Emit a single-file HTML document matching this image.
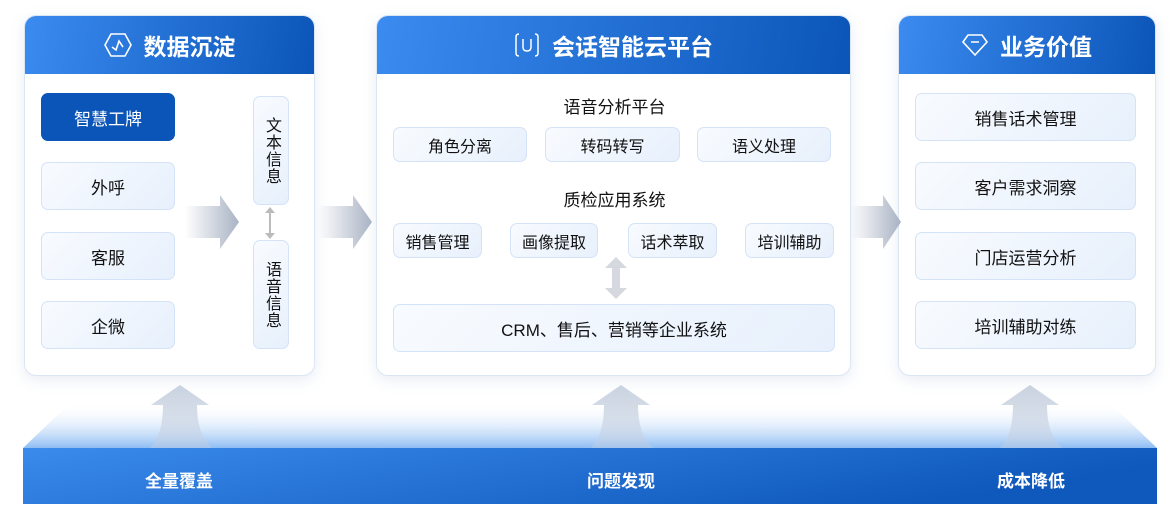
<!DOCTYPE html>
<html><head><meta charset="utf-8"><style>
*{margin:0;padding:0;box-sizing:border-box}
body{width:1173px;height:524px;background:#fff;position:relative;overflow:hidden;font-family:"Liberation Sans","Noto Sans CJK SC",sans-serif;color:#111}
.a{position:absolute}
.panel{position:absolute;background:#fff;border:1px solid #dbe6f5;border-radius:12px;box-shadow:0 4px 14px rgba(120,150,200,.18);overflow:hidden}
.hd{position:absolute;left:0;right:0;top:0;height:58px;background:linear-gradient(100deg,#3b8bf0,#0b55b8);color:#fff;font-weight:bold;font-size:23px;display:flex;align-items:center;justify-content:center;gap:12px}
.bx{position:absolute;background:linear-gradient(135deg,#f8fbff,#e7f0fc);border:1px solid #d4e3f7;border-radius:7px;display:flex;align-items:center;justify-content:center;font-size:17px;color:#111}
.t{position:absolute;font-size:17px;text-align:center}
.v{writing-mode:vertical-rl;letter-spacing:1px;font-size:16px}
</style></head><body>

<div class="panel" style="left:24px;top:15px;width:291px;height:361px">
 <div class="hd"><svg width="28" height="26" viewBox="0 0 28 26"><polygon points="7,2 21,2 27,13 21,24 7,24 1,13" fill="none" stroke="#fff" stroke-width="1.6"/><polyline points="8,15 12,18 15,9 19,15" fill="none" stroke="#fff" stroke-width="1.6"/></svg>数据沉淀</div>
</div>
<div class="panel" style="left:376px;top:15px;width:475px;height:361px">
 <div class="hd"><svg width="26" height="26" viewBox="0 0 26 26"><path d="M5,2 Q2,2 2,5 L2,21 Q2,24 5,24 M21,2 Q24,2 24,5 L24,21 Q24,24 21,24" fill="none" stroke="#fff" stroke-width="1.5"/><path d="M9,7 L9,15 Q9,19 13,19 Q17,19 17,15 L17,7" fill="none" stroke="#fff" stroke-width="1.5"/></svg>会话智能云平台</div>
</div>
<div class="panel" style="left:898px;top:15px;width:258px;height:361px">
 <div class="hd"><svg width="26" height="24" viewBox="0 0 26 24"><polygon points="6,2 20,2 25,9 13,22 1,9" fill="none" stroke="#fff" stroke-width="1.6"/><line x1="9" y1="9" x2="17" y2="9" stroke="#fff" stroke-width="1.6"/></svg>业务价值</div>
</div>

<div class="bx" style="left:41px;top:93px;width:134px;height:48px;background:#0b55b8;border-color:#0b55b8;color:#fff">智慧工牌</div>
<div class="bx" style="left:41px;top:162px;width:134px;height:48px">外呼</div>
<div class="bx" style="left:41px;top:232px;width:134px;height:48px">客服</div>
<div class="bx" style="left:41px;top:301px;width:134px;height:48px">企微</div>
<div class="bx v" style="left:253px;top:96px;width:36px;height:109px">文本信息</div>
<div class="bx v" style="left:253px;top:240px;width:36px;height:109px">语音信息</div>
<svg class="a" style="left:263px;top:206px" width="14" height="34"><line x1="7" y1="5" x2="7" y2="29" stroke="#bbb" stroke-width="2"/><polygon points="2,7 7,1 12,7" fill="#bbb"/><polygon points="2,27 7,33 12,27" fill="#bbb"/></svg>

<div class="t" style="left:377px;width:475px;top:93px">语音分析平台</div>
<div class="bx" style="left:393px;top:127px;width:134px;height:35px;font-size:16px">角色分离</div>
<div class="bx" style="left:545px;top:127px;width:135px;height:35px;font-size:16px">转码转写</div>
<div class="bx" style="left:697px;top:127px;width:134px;height:35px;font-size:16px">语义处理</div>
<div class="t" style="left:377px;width:475px;top:186px">质检应用系统</div>
<div class="bx" style="left:393px;top:223px;width:89px;height:35px;font-size:16px">销售管理</div>
<div class="bx" style="left:510px;top:223px;width:88px;height:35px;font-size:16px">画像提取</div>
<div class="bx" style="left:628px;top:223px;width:89px;height:35px;font-size:16px">话术萃取</div>
<div class="bx" style="left:745px;top:223px;width:89px;height:35px;font-size:16px">培训辅助</div>
<svg class="a" style="left:604px;top:256px" width="24" height="44"><rect x="8" y="10" width="8" height="24" fill="#d5d8de"/><polygon points="1,12 12,1 23,12" fill="#d5d8de"/><polygon points="1,32 12,43 23,32" fill="#d5d8de"/></svg>
<div class="bx" style="left:393px;top:304px;width:442px;height:48px">CRM、售后、营销等企业系统</div>

<div class="bx" style="left:915px;top:93px;width:221px;height:48px">销售话术管理</div>
<div class="bx" style="left:915px;top:162px;width:221px;height:48px">客户需求洞察</div>
<div class="bx" style="left:915px;top:232px;width:221px;height:48px">门店运营分析</div>
<div class="bx" style="left:915px;top:301px;width:221px;height:48px">培训辅助对练</div>

<svg class="a" style="left:0;top:0" width="1173" height="524">
 <defs>
  <linearGradient id="ga" x1="0" x2="1"><stop offset="0" stop-color="#a9b3c4" stop-opacity="0"/><stop offset="1" stop-color="#a9b3c4"/></linearGradient>
  <linearGradient id="gu" x1="0" y1="1" x2="0" y2="0"><stop offset="0" stop-color="#c4cfe0" stop-opacity=".4"/><stop offset="1" stop-color="#c9d2e0"/></linearGradient>
  <linearGradient id="gt" x1="0" y1="0" x2="0" y2="1"><stop offset="0" stop-color="#ffffff" stop-opacity="0"/><stop offset="1" stop-color="#8fbdf3"/></linearGradient>
  <linearGradient id="gb" x1="0" y1="0" x2="1" y2="0.3"><stop offset="0" stop-color="#3a8bec"/><stop offset="1" stop-color="#0f58bc"/></linearGradient>
  <path id="up" d="M-30,63 Q-17,50 -17,20 L-29,20 L0,0 L29,20 L17,20 Q17,50 32,63 Z"/>
 </defs>
 <polygon points="185,206 220,206 220,195 239,222 220,249 220,238 185,238" fill="url(#ga)"/>
 <polygon points="318,206 353,206 353,195 372,222 353,249 353,238 318,238" fill="url(#ga)"/>
 <polygon points="851,206 883,206 883,195 901,222 883,249 883,238 851,238" fill="url(#ga)"/>
 <polygon points="23,448 70,403 1110,403 1157,448" fill="url(#gt)"/>
 <rect x="23" y="448" width="1134" height="56" fill="url(#gb)"/>
 <g fill="url(#gu)">
  <use href="#up" x="180" y="385"/>
  <use href="#up" x="621" y="385"/>
  <use href="#up" x="1030" y="385"/>
 </g>
 <g fill="#fff" font-weight="bold" font-size="17" text-anchor="middle" font-family="Liberation Sans,Noto Sans CJK SC,sans-serif">
  <text x="179" y="487">全量覆盖</text>
  <text x="621" y="487">问题发现</text>
  <text x="1031" y="487">成本降低</text>
 </g>
</svg>
</body></html>
